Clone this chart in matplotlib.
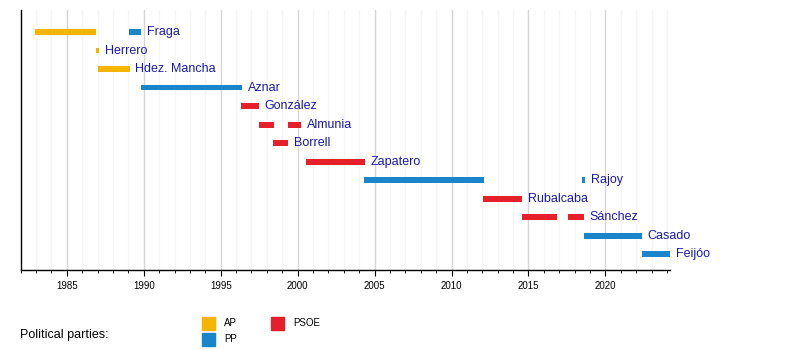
import matplotlib.pyplot as plt
from matplotlib.patches import Rectangle
from matplotlib.ticker import MultipleLocator

plt.rcParams['font.family'] = ['Liberation Sans', 'DejaVu Sans']

# Leaders, top to bottom
leaders = ["Fraga", "Herrero", "Hdez. Mancha", "Aznar", "González", "Almunia",
           "Borrell", "Zapatero", "Rajoy", "Rubalcaba", "Sánchez", "Casado", "Feijóo"]

# Terms as (leader, party, start, end) in decimal years
terms = [
    ("Fraga", "AP", 1982.9, 1986.9),
    ("Fraga", "PP", 1989.05, 1989.85),
    ("Herrero", "AP", 1986.9, 1987.1),
    ("Hdez. Mancha", "AP", 1987.0, 1989.1),
    ("Aznar", "PP", 1989.8, 1996.4),
    ("González", "PSOE", 1996.3, 1997.5),
    ("Almunia", "PSOE", 1997.5, 1998.45),
    ("Almunia", "PSOE", 1999.35, 2000.25),
    ("Borrell", "PSOE", 1998.4, 1999.4),
    ("Zapatero", "PSOE", 2000.55, 2004.35),
    ("Rajoy", "PP", 2004.3, 2012.1),
    ("Rajoy", "PP", 2018.5, 2018.7),
    ("Rubalcaba", "PSOE", 2012.05, 2014.6),
    ("Sánchez", "PSOE", 2014.6, 2016.85),
    ("Sánchez", "PSOE", 2017.6, 2018.6),
    ("Casado", "PP", 2018.6, 2022.35),
    ("Feijóo", "PP", 2022.35, 2024.2),
]

party_colors = {"AP": "#F4B400", "PP": "#1B85CC", "PSOE": "#E5202A"}
year_start, year_end = 1982, 2024.2

fig = plt.figure(figsize=(8, 3.5), dpi=100)
ax = fig.add_axes([20.7 / 800, 80 / 350, (670 - 20.7) / 800, 260 / 350])
ax.set_xlim(year_start, year_end)
ax.set_ylim(12.86, -1.19)

# year grid
for yr in range(1983, 2025):
    c = "#d6d6d6" if yr % 5 == 0 else "#f5f5f5"
    ax.axvline(yr, color=c, lw=1, zorder=0)

bar_h = 0.32
last_end = {}
for name, party, s, e in terms:
    row = leaders.index(name)
    ax.add_patch(Rectangle((s, row - bar_h / 2), e - s, bar_h,
                           color=party_colors[party], lw=0, zorder=2))
    last_end[name] = max(last_end.get(name, 0), e)

for row, name in enumerate(leaders):
    ax.annotate(name, (last_end[name], row), xytext=(4, 0), textcoords="offset points",
                va="center", ha="left", fontsize=9, color="#1a1aaa")

ax.xaxis.set_major_locator(MultipleLocator(5))
ax.xaxis.set_minor_locator(MultipleLocator(1))
ax.tick_params(axis="x", which="major", length=4, labelsize=7, pad=4)
ax.tick_params(axis="x", which="minor", length=2)
ax.set_yticks([])
for side in ("top", "right"):
    ax.spines[side].set_visible(False)
for side in ("left", "bottom"):
    ax.spines[side].set_linewidth(1)

# legend
fig.text(20 / 800, 1 - 335 / 350, "Political parties:", fontsize=9, va="center")
legend_items = [("AP", 202, 323), ("PP", 202, 339), ("PSOE", 271, 323)]
for party, px, py in legend_items:
    fig.patches.append(Rectangle((px / 800, 1 - (py + 6.5) / 350), 13 / 800, 13 / 350,
                                 color=party_colors[party], transform=fig.transFigure))
    fig.text((px + 22) / 800, 1 - py / 350, party, fontsize=7, va="center")

fig.savefig("out.png", dpi=100)
